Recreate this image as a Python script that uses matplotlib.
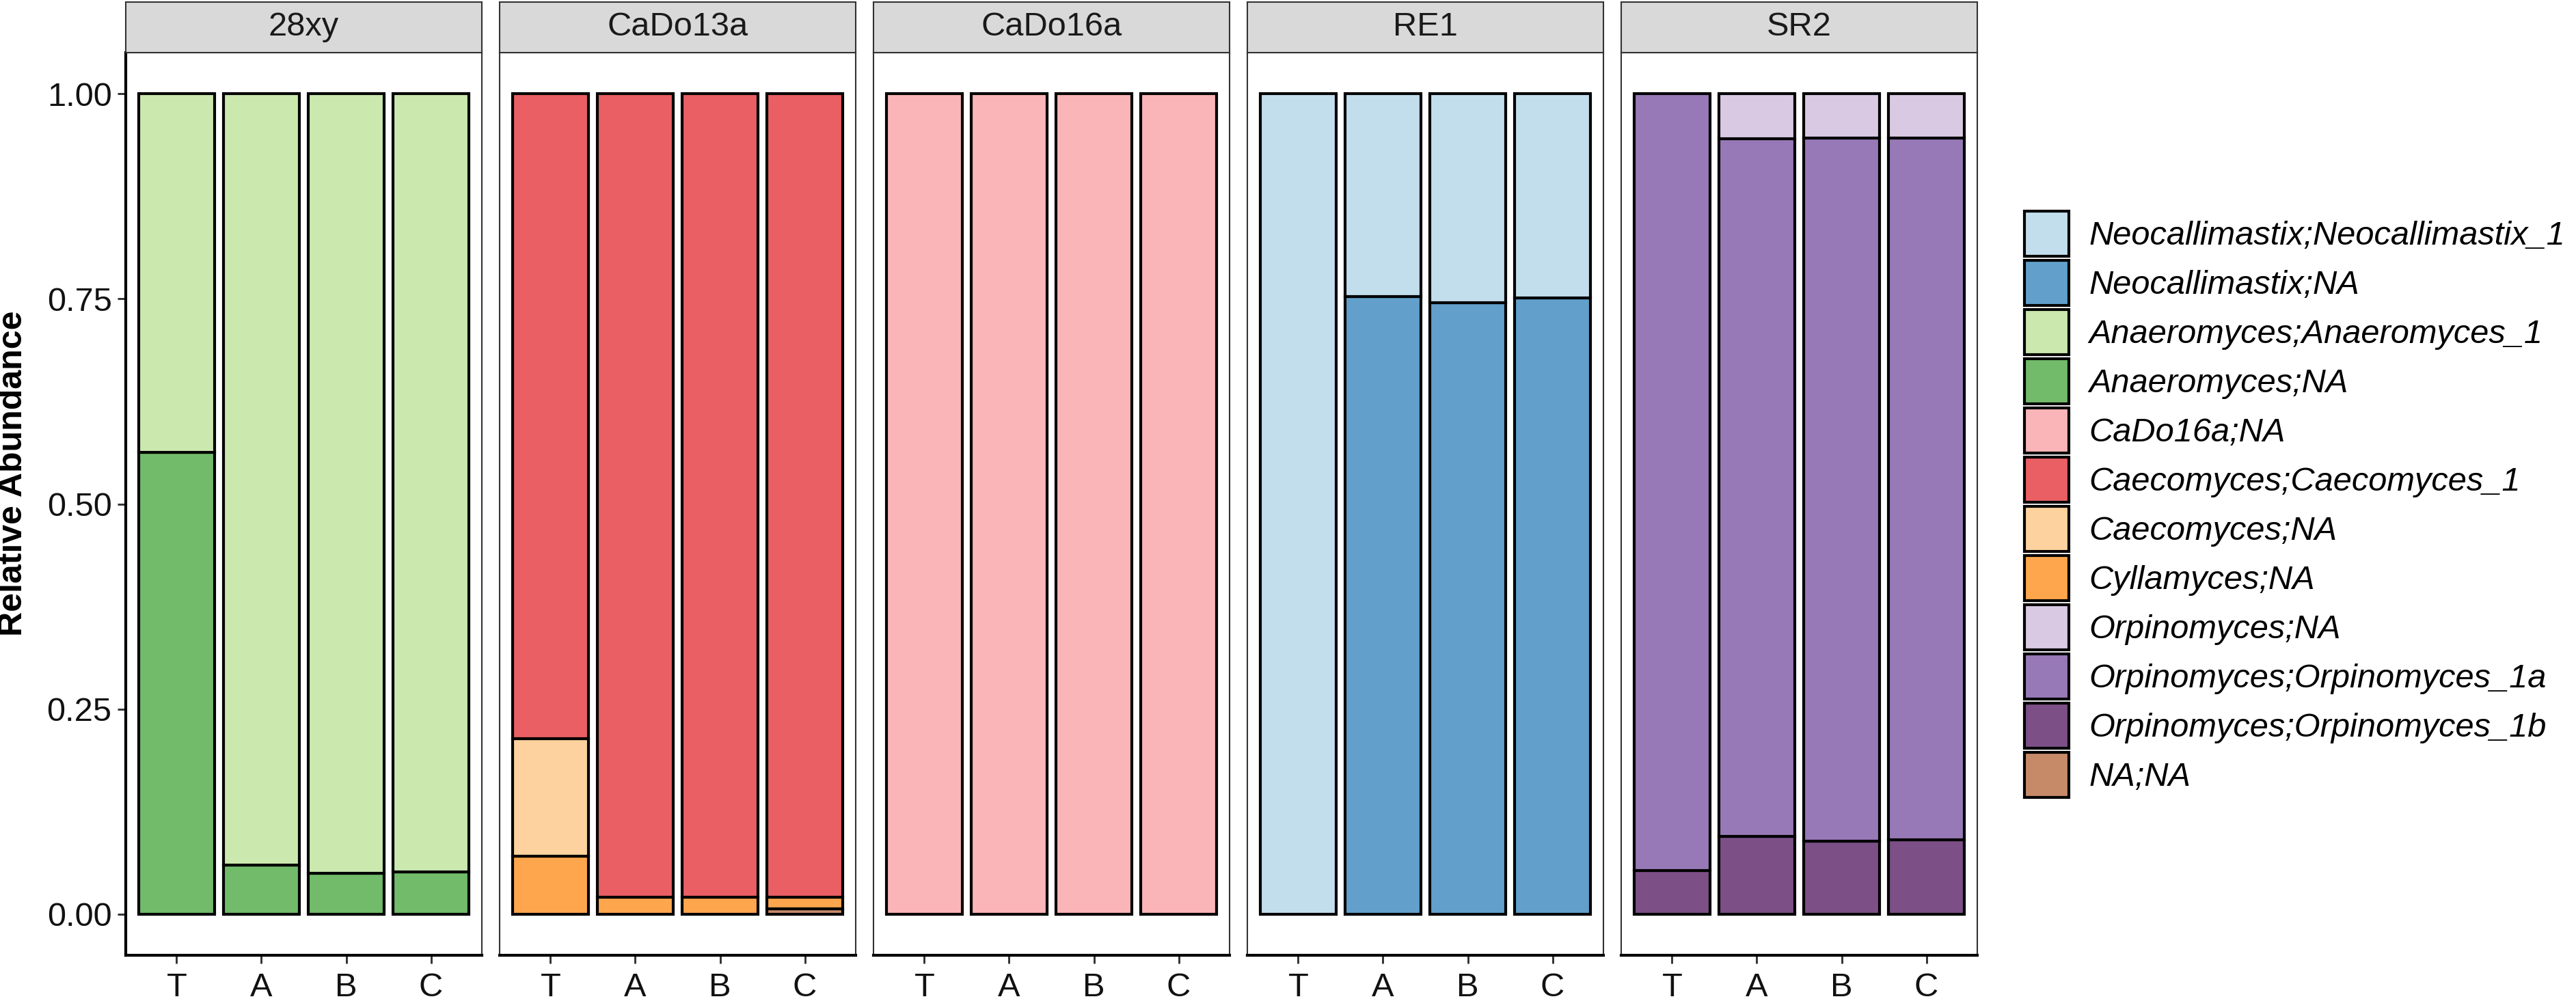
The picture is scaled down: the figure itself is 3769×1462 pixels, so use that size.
import matplotlib
matplotlib.use("Agg")
import matplotlib.pyplot as plt
from matplotlib.patches import Patch
import numpy as np

plt.rcParams['font.family'] = ['Liberation Sans', 'DejaVu Sans']

## data
samples = ['T', 'A', 'B', 'C']
groups = ['28xy', 'CaDo13a', 'CaDo16a', 'RE1', 'SR2']

taxa = ['Neocallimastix;Neocallimastix_1', 'Neocallimastix;NA',
        'Anaeromyces;Anaeromyces_1', 'Anaeromyces;NA', 'CaDo16a;NA',
        'Caecomyces;Caecomyces_1', 'Caecomyces;NA', 'Cyllamyces;NA',
        'Orpinomyces;NA', 'Orpinomyces;Orpinomyces_1a',
        'Orpinomyces;Orpinomyces_1b', 'NA;NA']
taxa_colors = ['#C2DEEC', '#62A0CB', '#CBE9AF', '#71BB6A', '#F9B5B7',
               '#E95F63', '#FED29E', '#FEA64D', '#D9C9E3', '#9879B7',
               '#7C4F87', '#C68A69']

# relative abundance per sample (T, A, B, C)
abund_28xy = {'Anaeromyces;Anaeromyces_1': [0.437, 0.940, 0.950, 0.948],
              'Anaeromyces;NA': [0.563, 0.060, 0.050, 0.052]}
abund_cado13a = {'Caecomyces;Caecomyces_1': [0.786, 0.979, 0.979, 0.979],
                 'Caecomyces;NA': [0.143, 0.0, 0.0, 0.0],
                 'Cyllamyces;NA': [0.071, 0.021, 0.021, 0.014],
                 'NA;NA': [0.0, 0.0, 0.0, 0.007]}
abund_cado16a = {'CaDo16a;NA': [1.0, 1.0, 1.0, 1.0]}
abund_re1 = {'Neocallimastix;Neocallimastix_1': [1.0, 0.247, 0.255, 0.249],
             'Neocallimastix;NA': [0.0, 0.753, 0.745, 0.751]}
abund_sr2 = {'Orpinomyces;NA': [0.0, 0.055, 0.054, 0.054],
             'Orpinomyces;Orpinomyces_1a': [0.947, 0.850, 0.857, 0.855],
             'Orpinomyces;Orpinomyces_1b': [0.053, 0.095, 0.089, 0.091]}
group_data = [abund_28xy, abund_cado13a, abund_cado16a, abund_re1, abund_sr2]

## figure
W, H = 3769, 1462
fig = plt.figure(figsize=(W / 300, H / 300), dpi=300)
fs = 11.7

x = np.arange(len(samples))
for gi, (gname, gdata) in enumerate(zip(groups, group_data)):
    left = (184 + gi * 547) / W
    ax = fig.add_axes([left, 64 / H, 521 / W, 1321 / H])
    bottom = np.zeros(len(samples))
    # stack from the bottom in reverse legend order
    for tname, tcol in reversed(list(zip(taxa, taxa_colors))):
        if tname not in gdata:
            continue
        vals = np.array(gdata[tname])
        for xi in range(len(samples)):
            if vals[xi] > 0:
                ax.bar(x[xi], vals[xi], bottom=bottom[xi], width=0.9,
                       color=tcol, edgecolor='black', linewidth=1.0, zorder=2)
        bottom += vals
    ax.set_xlim(-0.6, 3.6)
    ax.set_ylim(-0.05, 1.05)
    ax.set_xticks(x)
    ax.set_xticklabels(samples, fontsize=fs, color='#111111')
    ax.tick_params(axis='x', length=2.9, width=0.7, color='#333333', pad=3)
    if gi == 0:
        ax.set_yticks([0, 0.25, 0.5, 0.75, 1.0])
        ax.set_yticklabels(['0.00', '0.25', '0.50', '0.75', '1.00'],
                           fontsize=fs, color='#111111')
        ax.tick_params(axis='y', length=2.9, width=0.7, color='#333333', pad=2)
        ax.spines['left'].set_color('black')
        ax.spines['left'].set_linewidth(1.0)
    else:
        ax.set_yticks([])
        ax.spines['left'].set_color('#333333')
        ax.spines['left'].set_linewidth(0.5)
    ax.spines['bottom'].set_color('black')
    ax.spines['bottom'].set_linewidth(1.0)
    for s in ['top', 'right']:
        ax.spines[s].set_color('#333333')
        ax.spines[s].set_linewidth(0.5)

    # facet strip
    sax = fig.add_axes([left, 1 - 77 / H, 521 / W, 74 / H])
    sax.set_facecolor('#D9D9D9')
    sax.set_xticks([])
    sax.set_yticks([])
    for s in sax.spines.values():
        s.set_color('#333333')
        s.set_linewidth(0.5)
    sax.text(0.5, 0.5, gname, ha='center', va='center', fontsize=fs,
             color='#1A1A1A', transform=sax.transAxes)

fig.text(19 / W, 1 - 693 / H, 'Relative Abundance', rotation=90,
         ha='center', va='center', fontsize=12, fontweight='bold')

handles = [Patch(facecolor=c, edgecolor='black', linewidth=1.0) for c in taxa_colors]
fig.legend(handles, taxa, loc='upper left', bbox_to_anchor=(2962 / W, 1 - 309 / H),
           frameon=False, borderpad=0, borderaxespad=0,
           prop={'size': fs, 'style': 'italic'},
           handlelength=1.333, handleheight=1.706, labelspacing=0.123,
           handletextpad=0.6)

fig.savefig('out.png', dpi=300)
